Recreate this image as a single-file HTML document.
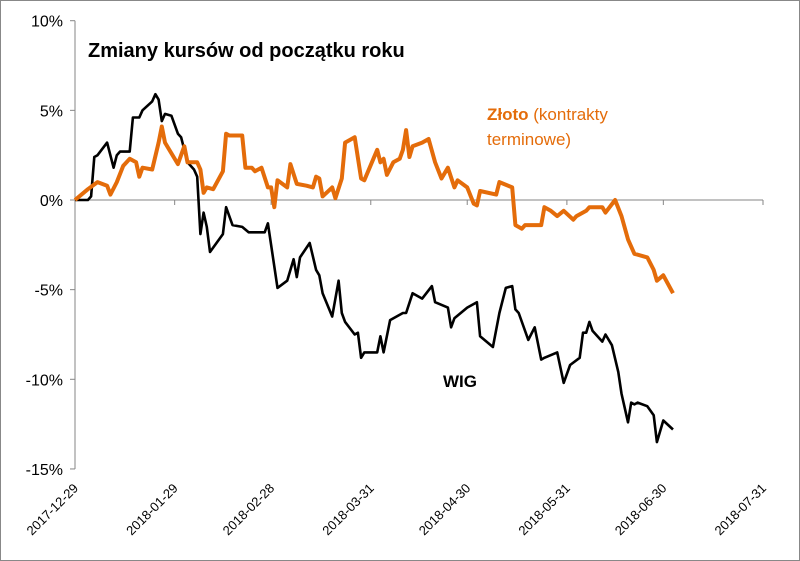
<!DOCTYPE html>
<html><head><meta charset="utf-8"><style>
html,body{margin:0;padding:0;background:#fff}
svg{display:block;font-family:"Liberation Sans",sans-serif}
</style></head><body>
<svg id="chart" width="800" height="561" viewBox="0 0 800 561">
<rect x="0.5" y="0.5" width="799" height="560" fill="#fff" stroke="#888"/>
<g id="grid"></g>
<g id="series"></g>
<text x="88" y="57" font-size="20" font-weight="bold" fill="#000">Zmiany kursów od początku roku</text>
<text x="487" y="120" font-size="17" fill="#e46c0a"><tspan font-weight="bold">Złoto</tspan> (kontrakty</text>
<text x="487" y="145" font-size="17" fill="#e46c0a">terminowe)</text>
<text x="443" y="387" font-size="17" font-weight="bold" fill="#000">WIG</text>
</svg>
<script>
const yTicks=[10,5,0,-5,-10,-15];
const xTickLabels=["2017-12-29","2018-01-29","2018-02-28","2018-03-31","2018-04-30","2018-05-31","2018-06-30","2018-07-31"];
const xTickDays=[0,31,61,92,122,153,183,214];
const wigDays=[0,4,5,6,7,10,12,13,14,17,18,20,21,24,25,26,27,28,30,32,33,35,37,38,39,40,41,42,46,47,49,52,54,59,60,63,66,68,69,70,73,75,76,77,80,82,83,84,87,88,89,90,94,95,96,98,102,103,105,108,111,112,116,117,118,122,125,126,130,132,134,136,137,138,141,143,145,146,150,152,154,157,158,159,160,161,164,165,167,169,170,172,173,174,175,178,180,181,183,186];
const wigVals=[0,0,0.2,2.4,2.5,3.2,1.8,2.5,2.7,2.7,4.6,4.6,5.0,5.5,5.9,5.6,4.4,4.8,4.7,3.7,3.5,2.1,1.7,1.3,-1.9,-0.7,-1.5,-2.9,-1.9,-0.4,-1.4,-1.5,-1.8,-1.8,-1.3,-4.9,-4.5,-3.3,-4.3,-3.2,-2.4,-3.9,-4.2,-5.2,-6.5,-4.5,-6.3,-6.8,-7.5,-7.4,-8.8,-8.5,-8.5,-7.6,-8.5,-6.7,-6.3,-6.3,-5.2,-5.5,-4.8,-5.7,-6.0,-7.1,-6.6,-6.0,-5.7,-7.6,-8.2,-6.3,-4.9,-4.8,-6.1,-6.3,-7.8,-7.1,-8.9,-8.8,-8.5,-10.2,-9.2,-8.8,-7.4,-7.4,-6.8,-7.3,-7.9,-7.5,-8.1,-9.6,-10.8,-12.4,-11.3,-11.4,-11.3,-11.5,-12.0,-13.5,-12.3,-12.8];
const zlotoDays=[0,4,7,10,11,13,15,17,19,20,21,24,26,27,28,32,34,35,38,39,40,41,43,46,47,48,52,53,55,56,58,60,61,62,63,66,67,69,72,74,75,76,77,80,81,83,84,87,89,90,94,95,96,97,99,101,102,103,104,105,108,110,112,114,116,118,119,122,124,125,126,131,132,136,137,139,140,145,146,148,150,152,155,156,159,160,164,165,168,170,172,174,178,180,181,183,186];
const zlotoVals=[0,0.6,1.0,0.8,0.3,1.0,1.9,2.3,2.1,1.3,1.8,1.7,3.2,4.1,3.2,2.0,3.0,2.1,2.1,1.7,0.4,0.7,0.6,1.6,3.7,3.6,3.6,1.8,1.8,1.6,1.8,0.7,0.7,-0.4,1.1,0.7,2.0,0.9,0.8,0.7,1.3,1.2,0.2,0.7,0.1,1.2,3.2,3.5,1.2,1.1,2.8,2.1,2.3,1.4,2.1,2.3,2.8,3.9,2.4,3.0,3.2,3.4,2.1,1.2,1.8,0.7,1.1,0.7,-0.2,-0.3,0.5,0.3,1.0,0.7,-1.4,-1.6,-1.4,-1.4,-0.4,-0.6,-0.9,-0.6,-1.1,-0.9,-0.6,-0.4,-0.4,-0.7,0.0,-0.9,-2.2,-3.0,-3.2,-3.9,-4.5,-4.2,-5.2];

const NS="http://www.w3.org/2000/svg";
const X0=75,X1=763,Y0=200,PPP=17.93,DMAX=214;
function xs(d){return X0+d*(X1-X0)/DMAX;}
function ys(v){return Y0-v*PPP;}
function mk(tag,attrs,parent){const e=document.createElementNS(NS,tag);for(const k in attrs)e.setAttribute(k,attrs[k]);parent.appendChild(e);return e;}
const grid=document.getElementById('grid'),series=document.getElementById('series');

let ax=mk('line',{x1:X0,y1:ys(10),x2:X0,y2:ys(-15),stroke:'#868686','stroke-width':1},grid);


yTicks.forEach(v=>{
  const t=mk('line',{x1:X0-5,y1:ys(v),x2:X0,y2:ys(v),stroke:'#868686'},grid);
  
  
  const l=mk('text',{x:X0-12,y:ys(v)+6,'text-anchor':'end','font-size':16,fill:'#000'},grid);
  l.textContent=v+'%';
  
  
});
let xa=mk('line',{x1:X0,y1:Y0,x2:X1,y2:Y0,stroke:'#868686'},grid);


xTickDays.forEach((d,i)=>{
  const x=xs(d);
  const t=mk('line',{x1:x,y1:Y0,x2:x,y2:Y0+5,stroke:'#868686'},grid);
  
  
  const l=mk('text',{x:x+4,y:489,'text-anchor':'end','font-size':13,fill:'#000',transform:`rotate(-45 ${x+4} 489)`},grid);
  l.textContent=xTickLabels[i];
  
  
});
function path(days,vals){return days.map((d,i)=>(i?'L':'M')+xs(d).toFixed(1)+','+ys(vals[i]).toFixed(1)).join(' ');}
const pw=mk('path',{d:path(wigDays,wigVals),fill:'none',stroke:'#000','stroke-width':2.6,'stroke-linejoin':'round'},series);


const pz=mk('path',{d:path(zlotoDays,zlotoVals),fill:'none',stroke:'#e46c0a','stroke-width':4,'stroke-linejoin':'round'},series);


</script>
</body></html>
